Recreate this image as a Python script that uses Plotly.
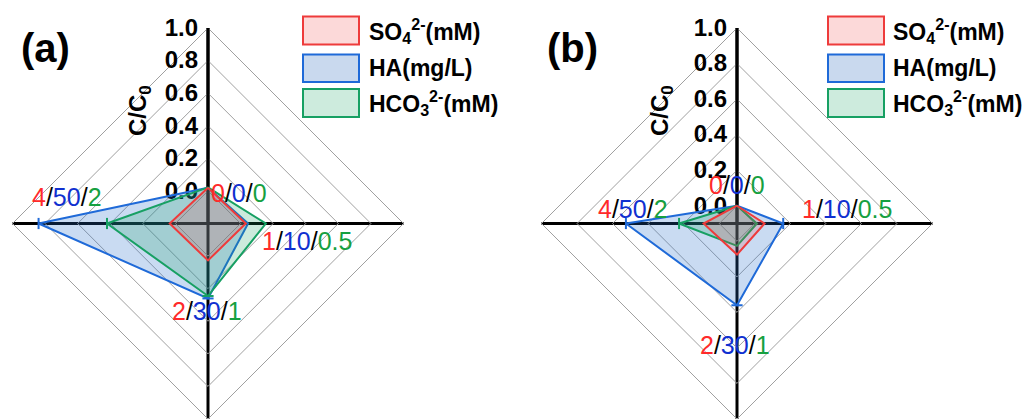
import plotly.graph_objects as go

W, H = 1032, 419

# ---------------- data ----------------
categories = ["0/0/0", "1/10/0.5", "2/30/1", "4/50/2"]
cat_parts = [["0", "0", "0"], ["1", "10", "0.5"], ["2", "30", "1"], ["4", "50", "2"]]
series_names = ["SO<sub>4</sub><sup>2-</sup>(mM)", "HA(mg/L)", "HCO<sub>3</sub><sup>2-</sup>(mM)"]

# panel (a)
a_so4 = [0.02, 0.032, 0.027, 0.035]
a_ha = [0.02, 0.046, 0.26, 0.84]
a_hco3 = [0.022, 0.155, 0.245, 0.42]
# panel (b)
b_so4 = [0.0, 0.055, 0.075, 0.088]
b_ha = [0.0, 0.16, 0.36, 0.525]
b_hco3 = [0.0, 0.012, 0.026, 0.226]

radial_ticks = [0.0, 0.2, 0.4, 0.6, 0.8, 1.0]
radial_ticktext = ["0.0", "0.2", "0.4", "0.6", "0.8", "1.0"]

# ---------------- styles ----------------
line_cols = ["#EE3B3B", "#1F6AD8", "#17A063"]
fill_cols = ["rgba(240,60,60,0.18)", "rgba(40,110,205,0.25)", "rgba(25,160,95,0.22)"]
legend_fill = ["#FCD9D9", "#C9D9EE", "#CDEBDD"]
text_cols = ["#FF2A2A", "#1030D0", "#16A040"]
FONT = "Arial, Liberation Sans, sans-serif"

fig = go.Figure()

def px(x, y):
    return x / W, 1 - y / H

panels = [
    dict(name="polar", data=[a_so4, a_ha, a_hco3], rmin=-0.2,
         dom_x=[12, 404],
         label="(a)", label_xy=(45, 48), ctitle_xy=(139, 111),
         leg_x=(303, 359), leg_text_x=367,
         cat_xy=[(209, 193, "left"), (307, 241, "center"), (207, 311, "center"), (67, 197, "center")]),
    dict(name="polar2", data=[b_so4, b_ha, b_hco3], rmin=-0.1,
         dom_x=[541, 933],
         label="(b)", label_xy=(572, 48), ctitle_xy=(661, 111),
         leg_x=(828, 884), leg_text_x=891,
         cat_xy=[(737, 185, "center"), (847, 209, "center"), (735, 345, "center"), (633, 209, "center")]),
]

leg_rows = [(16.5, 44.5), (54.5, 82), (89, 117)]
order = [1, 2, 0]  # draw HA, HCO3, then SO4 on top

annotations = []
shapes = []
for p in panels:
    for i in order:
        vals = p["data"][i]
        theta = categories + [categories[0]]
        r = vals + [vals[0]]
        syms = ["line-ew", "line-ns", "line-ew", "line-ns", "line-ew"]
        fig.add_trace(go.Scatterpolar(
            r=r, theta=theta, subplot=p["name"], mode="lines+markers",
            fill="toself", fillcolor=fill_cols[i],
            line=dict(color=line_cols[i], width=2),
            marker=dict(symbol=syms, size=8, line=dict(color=line_cols[i], width=2)),
            name=series_names[i], showlegend=False, hoverinfo="skip"))

    # panel label
    x, y = px(*p["label_xy"])
    annotations.append(dict(x=x, y=y, xref="paper", yref="paper", text="<b>" + p["label"] + "</b>",
                            showarrow=False, font=dict(size=40, color="black", family=FONT),
                            xanchor="center", yanchor="middle"))
    # axis title
    x, y = px(*p["ctitle_xy"])
    annotations.append(dict(x=x, y=y, xref="paper", yref="paper", text="<b>C/C<sub>0</sub></b>",
                            showarrow=False, textangle=-90,
                            font=dict(size=24, color="black", family=FONT),
                            xanchor="center", yanchor="middle"))
    # category labels
    for (cx, cy, anc), parts in zip(p["cat_xy"], cat_parts):
        txt = "/".join('<span style="color:%s">%s</span>' % (text_cols[k], parts[k]) for k in range(3))
        x, y = px(cx, cy)
        annotations.append(dict(x=x, y=y, xref="paper", yref="paper", text=txt, showarrow=False,
                                font=dict(size=25, color="black", family=FONT),
                                xanchor=anc, yanchor="middle"))
    # legend
    for k, (y0, y1) in enumerate(leg_rows):
        x0, yy0 = px(p["leg_x"][0], y0)
        x1, yy1 = px(p["leg_x"][1], y1)
        shapes.append(dict(type="rect", xref="paper", yref="paper", x0=x0, x1=x1, y0=yy1, y1=yy0,
                           fillcolor=legend_fill[k], line=dict(color=line_cols[k], width=2)))
        tx, ty = px(p["leg_text_x"], (y0 + y1) / 2)
        annotations.append(dict(x=tx, y=ty, xref="paper", yref="paper", text="<b>" + series_names[k] + "</b>",
                                showarrow=False, font=dict(size=23, color="black", family=FONT),
                                xanchor="left", yanchor="middle"))

def polar_layout(p):
    return dict(
        domain=dict(x=[p["dom_x"][0] / W, p["dom_x"][1] / W], y=[0, 1 - 28 / H]),
        gridshape="linear",
        bgcolor="rgba(0,0,0,0)",
        radialaxis=dict(range=[p["rmin"], 1.0], tickvals=radial_ticks, ticktext=radial_ticktext,
                        angle=90, tickangle=90, side="counterclockwise",
                        showline=True, linecolor="black", linewidth=3,
                        gridcolor="#A0A0A0", gridwidth=1, ticks="", layer="below traces",
                        tickfont=dict(size=24, color="black", family=FONT, weight="bold")),
        angularaxis=dict(type="category", categoryarray=categories, direction="clockwise", rotation=90,
                         showticklabels=False, ticks="", showline=True, linecolor="#A0A0A0", linewidth=1,
                         gridcolor="black", gridwidth=3, layer="below traces"),
    )

fig.update_layout(
    width=W, height=H, margin=dict(l=0, r=0, t=0, b=0),
    paper_bgcolor="white", plot_bgcolor="white",
    polar=polar_layout(panels[0]), polar2=polar_layout(panels[1]),
    annotations=annotations, shapes=shapes, showlegend=False,
    font=dict(family=FONT),
)

fig.write_html("out.html")
